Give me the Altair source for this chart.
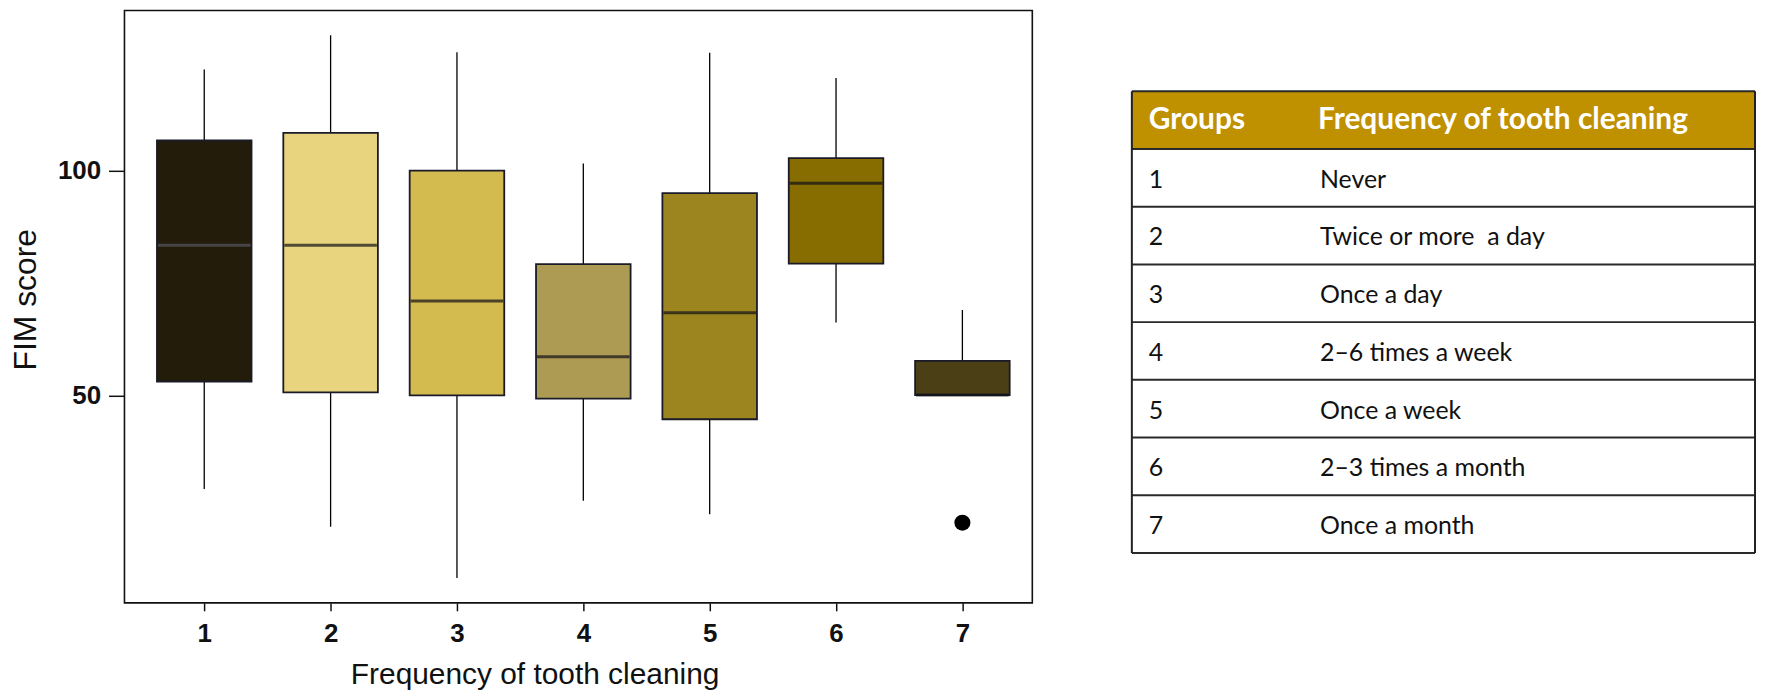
import altair as alt
import pandas as pd

# ---- box plot values ----
groups = [1, 2, 3, 4, 5, 6, 7]
whisker_lo = [29.2, 20.8, 9.4, 26.6, 23.6, 66.2, 50.1]
q1 = [53.1, 50.7, 50.0, 49.3, 44.7, 79.3, 50.1]
median = [83.4, 83.4, 71.0, 58.6, 68.4, 97.2, 50.1]
q3 = [106.7, 108.4, 100.0, 79.2, 95.0, 102.8, 57.7]
whisker_hi = [122.5, 130.1, 126.3, 101.6, 126.2, 120.6, 69.0]
box_colors = ["#231c0a", "#e8d47e", "#d4bb50", "#ad9a53", "#9c841e", "#876d00", "#4b3f16"]
median_colors = ["#55555f", "#111118", "#111118", "#111118", "#111118", "#111118", "#111118"]
outlier_group = [7]
outlier_value = [21.7]

# ---- table values ----
table_groups = ["1", "2", "3", "4", "5", "6", "7"]
table_desc = ["Never", "Twice or more\u00a0 a day", "Once a day", "2\u20136 times a week",
              "Once a week", "2\u20133 times a month", "Once a month"]
header_left = "Groups"
header_right = "Frequency of tooth cleaning"

df = pd.DataFrame({"group": groups, "lo": whisker_lo, "q1": q1, "med": median,
                   "q3": q3, "hi": whisker_hi, "col": box_colors, "mcol": median_colors})
out_df = pd.DataFrame({"group": outlier_group, "value": outlier_value})

AX_FONT = "Liberation Sans"
x_scale = alt.Scale(domain=[0.408, 7.514], nice=False, zero=False)
y_scale = alt.Scale(domain=[3.87, 135.6], nice=False, zero=False)

x_axis = alt.Axis(values=groups, format="d", title="Frequency of tooth cleaning",
                  grid=False, domain=False, tickSize=8, tickWidth=1.5, tickColor="#111",
                  labelFont=AX_FONT, labelFontSize=26, labelFontWeight="bold",
                  labelColor="#111", labelPadding=10, labelFlush=False,
                  titleFont=AX_FONT, titleFontSize=30, titleFontWeight="normal",
                  titleColor="#111", titlePadding=13, titleX=412)
y_axis = alt.Axis(values=[50, 100], title="FIM score", grid=False, domain=False,
                  tickSize=16, tickWidth=1.5, tickColor="#111",
                  labelFont=AX_FONT, labelFontSize=26, labelFontWeight="bold",
                  labelColor="#111", labelPadding=8,
                  titleFont=AX_FONT, titleFontSize=32, titleFontWeight="normal",
                  titleColor="#111", titlePadding=15, titleY=290)

X = alt.X("group:Q", scale=x_scale, axis=x_axis)

base = alt.Chart(df)
whiskers = base.mark_rule(color="#000", strokeWidth=1.3).encode(
    x=X, y=alt.Y("lo:Q", scale=y_scale, axis=y_axis), y2="hi:Q")
boxes = base.mark_bar(size=95, stroke="#1a1a28", strokeWidth=1.8).encode(
    x=X, y=alt.Y("q1:Q", scale=y_scale, axis=y_axis), y2="q3:Q",
    fill=alt.Fill("col:N", scale=None))
medians = base.mark_tick(orient="horizontal", size=93, thickness=3).encode(
    x=X, y=alt.Y("med:Q", scale=y_scale, axis=y_axis),
    color=alt.Color("mcol:N", scale=None))
outliers = alt.Chart(out_df).mark_circle(size=260, color="#000", opacity=1).encode(
    x=X, y=alt.Y("value:Q", scale=y_scale, axis=y_axis))

plot = alt.layer(whiskers, boxes, medians, outliers).properties(
    width=912, height=595,
    view=alt.ViewBackground(stroke="#111", strokeWidth=1.6))

# ---- table ----
TW = 626
t_scale = alt.Scale(domain=[0, 8], range=[81, 545], nice=False, zero=False)
rows = pd.DataFrame({"grp": table_groups, "desc": table_desc})
rows["rc"] = [i + 1.5 for i in range(len(rows))]
lines = pd.DataFrame({"r": list(range(len(table_groups) + 2))})
one = pd.DataFrame({"top": [0], "bot": [1], "end": [len(table_groups) + 1]})
head = pd.DataFrame({"l": [header_left], "r": [header_right], "rc": [0.5]})

header_rect = alt.Chart(one).mark_rect(fill="#bf9000").encode(
    x=alt.value(0), x2=alt.value(TW),
    y=alt.Y("top:Q", scale=t_scale, axis=None), y2="bot:Q")
hlines = alt.Chart(lines).mark_rule(color="#2a2a2a", strokeWidth=2).encode(
    x=alt.value(0), x2=alt.value(TW), y=alt.Y("r:Q", scale=t_scale, axis=None))
vleft = alt.Chart(one).mark_rule(color="#222", strokeWidth=2).encode(
    x=alt.value(0), y=alt.Y("top:Q", scale=t_scale, axis=None), y2="end:Q")
vright = alt.Chart(one).mark_rule(color="#222", strokeWidth=2).encode(
    x=alt.value(TW), y=alt.Y("top:Q", scale=t_scale, axis=None), y2="end:Q")
h_left = alt.Chart(head).mark_text(align="left", baseline="middle", font="Lato",
                                   fontSize=30, fontWeight="bold", color="white").encode(
    x=alt.value(17), y=alt.Y("rc:Q", scale=t_scale, axis=None), text="l:N")
h_right = alt.Chart(head).mark_text(align="left", baseline="middle", font="Lato",
                                    fontSize=30, fontWeight="bold", color="white").encode(
    x=alt.value(187), y=alt.Y("rc:Q", scale=t_scale, axis=None), text="r:N")
t_num = alt.Chart(rows).mark_text(align="left", baseline="middle", font="Lato",
                                  fontSize=25, color="#111", dy=2).encode(
    x=alt.value(17), y=alt.Y("rc:Q", scale=t_scale, axis=None), text="grp:N")
t_desc = alt.Chart(rows).mark_text(align="left", baseline="middle", font="Lato",
                                   fontSize=25, color="#111", dy=2).encode(
    x=alt.value(189), y=alt.Y("rc:Q", scale=t_scale, axis=None), text="desc:N")

table = alt.layer(header_rect, hlines, vleft, vright, h_left, h_right, t_num, t_desc).properties(
    width=TW, height=595)

chart = alt.hconcat(plot, table, spacing=97).properties(padding=0).configure_view(
    stroke="transparent")

chart.save("out.html", embed_options={"renderer": "svg", "actions": False})
